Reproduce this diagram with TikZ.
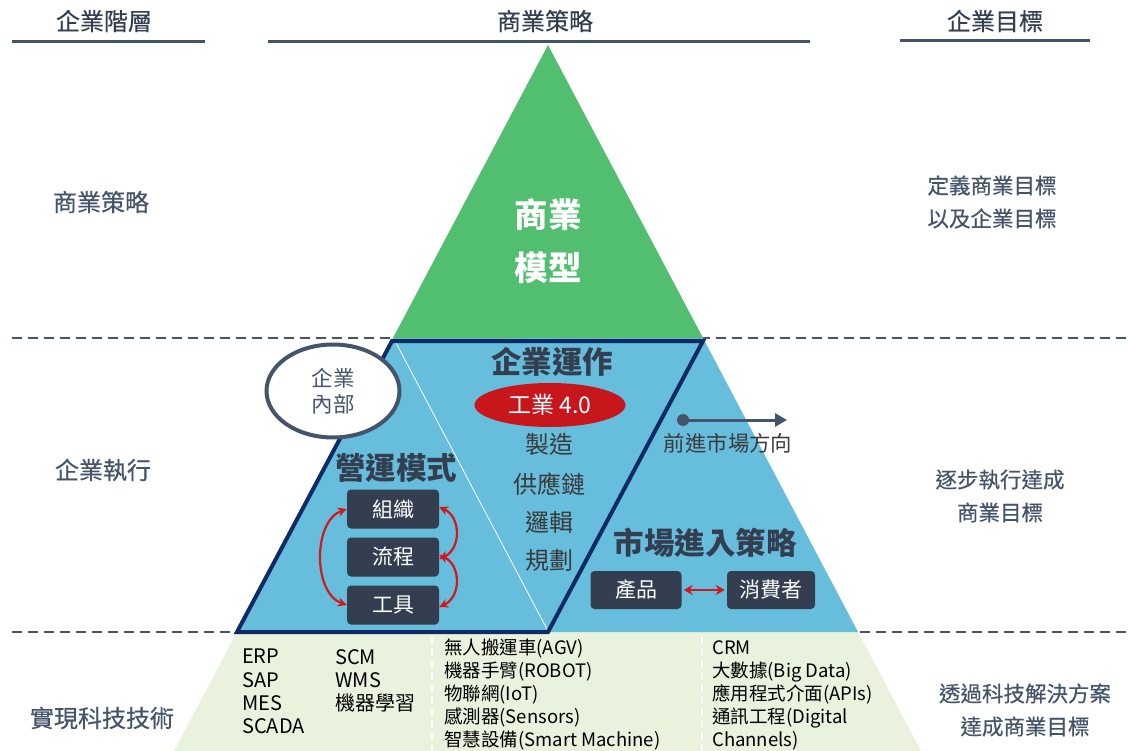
\documentclass[tikz,border=0pt]{standalone}
\usepackage{fontspec}
\setmainfont{Noto Sans CJK TC}
\newfontfamily\medfont[FakeBold=0.5]{Noto Sans CJK TC}
\usetikzlibrary{shapes.geometric,arrows.meta}
\definecolor{hdrcol}{HTML}{333F50}
\definecolor{graycol}{HTML}{44546A}
\definecolor{txtcol}{HTML}{3A3A3A}
\definecolor{greencol}{HTML}{52BE70}
\definecolor{bluecol}{HTML}{67BDDC}
\definecolor{lightgreen}{HTML}{E8F2DC}
\definecolor{navycol}{HTML}{0E2B66}
\definecolor{boxcol}{HTML}{333F50}
\definecolor{redcol}{HTML}{C8171C}
\definecolor{arrred}{HTML}{D0191D}
\tikzset{
  hdr/.style={font=\medfont\fontsize{24}{26}\selectfont, text=hdrcol},
  leftlab/.style={font=\medfont\fontsize{24}{26}\selectfont, text=graycol},
  sidelab/.style={font=\medfont\fontsize{21.5}{33}\selectfont, text=graycol, align=center},
  big/.style={font=\bfseries\fontsize{30.5}{34}\selectfont, text=hdrcol},
  item/.style={font=\fontsize{24}{28}\selectfont, text=txtcol},
  darkbox/.style={rectangle, rounded corners=4pt, fill=boxcol, text=white, minimum width=92pt, minimum height=39pt, font=\fontsize{21}{24}\selectfont},
  redarrow/.style={draw=arrred, line width=2.2pt, {Stealth[length=9pt,width=9pt]}-{Stealth[length=9pt,width=9pt]}},
  dashline/.style={draw=graycol, line width=2pt, dash pattern=on 10pt off 6pt},
  techtext/.style={anchor=north west, inner sep=0pt, align=left, text=black},
}
\begin{document}
\begin{tikzpicture}[x=1pt,y=-1pt]
\useasboundingbox (0,0) rectangle (1129,751);
% dashed separators
\draw[dashline] (12,338) -- (1129,338);
\draw[dashline] (12,632) -- (1129,632);
% pyramid layers
\fill[lightgreen] (237,632) -- (858,632) -- (921,751) -- (174,751) -- cycle;
\fill[bluecol] (393,338) -- (703,338) -- (858,632) -- (237,632) -- cycle;
\fill[greencol] (548,45) -- (703,338) -- (393,338) -- cycle;
% white vertical dashed lines in bottom layer
\draw[white, line width=1.2pt, dash pattern=on 7pt off 5pt] (432,637) -- (432,751);
\draw[white, line width=1.2pt, dash pattern=on 7pt off 5pt] (702,637) -- (702,751);
% white thin diagonal
\draw[white, line width=0.8pt] (395,341) -- (548,631);
% navy parallelogram
\draw[navycol, line width=4pt, line join=miter] (392,341) -- (703,341) -- (548,632) -- (237,632) -- cycle;
% headers
\node[hdr] (h1) at (104,21) {企業階層};
\node[hdr] (h2) at (545,21) {商業策略};
\node[hdr] (h3) at (995,21) {企業目標};
\draw[graycol, line width=3pt] (12,42) -- (205,42);
\draw[graycol, line width=3pt] (268,42) -- (810,42);
\draw[graycol, line width=3pt] (900,41) -- (1090,41);
% left labels
\node[leftlab] (l1) at (101,202) {商業策略};
\node[leftlab] (l2) at (103,470) {企業執行};
\node[leftlab] (l3) at (102,718) {實現科技技術};
% right labels
\node[sidelab] (r1) at (992,202) {定義商業目標\\以及企業目標};
\node[sidelab] (r2) at (1000,496) {逐步執行達成\\商業目標};
\node[sidelab] (r3) at (1025,710) {透過科技解決方案\\達成商業目標};
% green triangle text
\node[font=\bfseries\fontsize{33.5}{53}\selectfont, text=white, align=center] (bm) at (548,241) {商業\\模型};
% middle column
\node[big] (qy) at (552,362) {企業運作};
\node[ellipse, fill=redcol, minimum width=151pt, minimum height=44pt, text=white, font=\fontsize{23}{26}\selectfont, inner sep=0pt] (gy) at (550,405) {工業 4.0};
\node[item] (i1) at (549,444) {製造};
\node[item] (i2) at (549,484) {供應鏈};
\node[item] (i3) at (549,522) {邏輯};
\node[item] (i4) at (549,560) {規劃};
% inner circle
\node[ellipse, draw=graycol, line width=4pt, fill=white, minimum width=133pt, minimum height=93pt, text=graycol, align=center, font=\fontsize{21.5}{26}\selectfont] (nb) at (333,391) {企業\\內部};
% operating model
\node[big] (yy) at (396,468) {營運模式};
\node[darkbox] (zz) at (393,509) {組織};
\node[darkbox] (lc) at (393,557) {流程};
\node[darkbox] (gj) at (393,605) {工具};
\draw[redarrow] (zz.west) .. controls +(-34,12) and +(-34,-12) .. (gj.west);
\draw[redarrow] ([yshift=2pt]zz.east) .. controls +(22,10) and +(22,-10) .. ([yshift=-2pt]lc.east);
\draw[redarrow] ([yshift=2pt]lc.east) .. controls +(22,10) and +(22,-10) .. ([yshift=-2pt]gj.east);
% market direction
\node[circle, fill=graycol, minimum size=12pt, inner sep=0pt] (dot) at (683,420) {};
\coordinate (dirend) at (787,420);
\draw[graycol, line width=3pt, -{Triangle[length=12pt,width=13pt]}] (dot.center) -- (dirend);
\node[font=\fontsize{21.4}{24}\selectfont, text=txtcol] (qj) at (728,443) {前進市場方向};
% market entry
\node[big] (sc) at (705,543) {市場進入策略};
\node[darkbox, minimum width=91pt, minimum height=38pt] (cp) at (636,590) {產品};
\node[darkbox, minimum width=88pt, minimum height=38pt] (xf) at (771,590) {消費者};
\draw[redarrow, line width=2.4pt, {Stealth[length=9pt,width=10pt]}-{Stealth[length=9pt,width=10pt]}] ([xshift=2pt]cp.east) -- ([xshift=-2pt]xf.west);
% technology texts
\node[techtext, font=\fontsize{20}{23.2}\selectfont] (t1) at (242,649) {ERP\\SAP\\MES\\SCADA};
\node[techtext, font=\fontsize{20}{23.2}\selectfont] (t2) at (335,649) {SCM\\WMS\\機器學習};
\node[techtext, font=\fontsize{18.5}{23}\selectfont] (t3) at (444,639) {無人搬運車(AGV)\\機器手臂(ROBOT)\\物聯網(IoT)\\感測器(Sensors)\\智慧設備(Smart Machine)};
\node[techtext, font=\fontsize{18.5}{23}\selectfont] (t4) at (712,640) {CRM\\大數據(Big Data)\\應用程式介面(APIs)\\通訊工程(Digital\\Channels)};
\end{tikzpicture}
\end{document}
